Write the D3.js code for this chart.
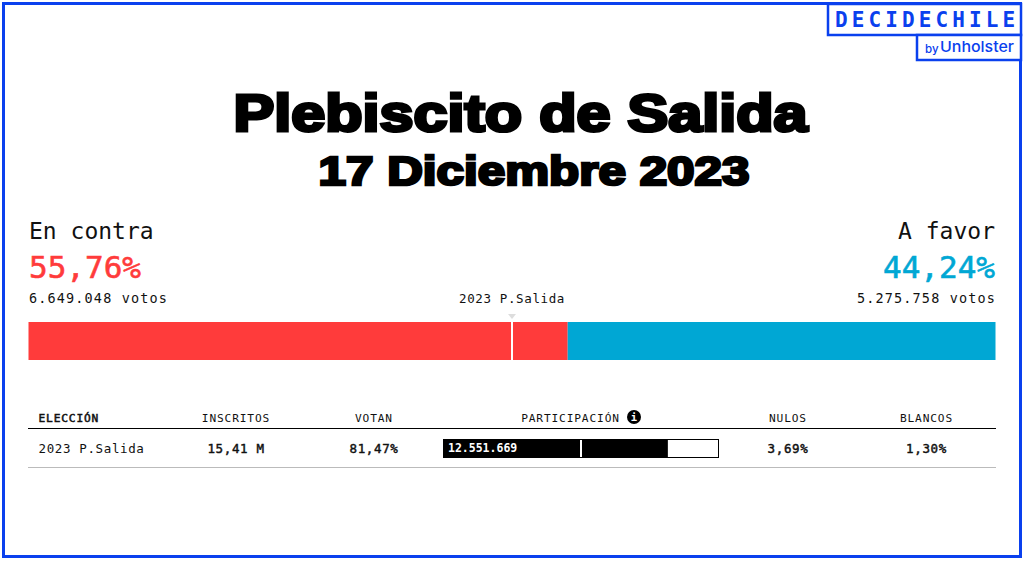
<!DOCTYPE html>
<html lang="es">
<head>
<meta charset="UTF-8">
<title>Plebiscito de Salida</title>
<script src="https://cdnjs.cloudflare.com/ajax/libs/d3/7.8.5/d3.min.js"></script>
<style>
  html, body { margin: 0; padding: 0; background: #fff; overflow: hidden; }
  text { font-family: "DejaVu Sans Mono", monospace; fill: #111; }
</style>
</head>
<body>
<svg id="chart" width="1024" height="561"></svg>
<script>
var opciones = ["En contra", "A favor"];
var porcentajes = [55.76, 44.24];
var etiquetasPct = ["55,76%", "44,24%"];
var votos = ["6.649.048 votos", "5.275.758 votos"];
var colores = ["#ff3b3b", "#00a7d4"];

var columnas = ["ELECCIÓN", "INSCRITOS", "VOTAN", "PARTICIPACIÓN", "NULOS", "BLANCOS"];
var fila = ["2023 P.Salida", "15,41 M", "81,47%", "12.551.669", "3,69%", "1,30%"];
var participacion = [81.47];
var azul = "#0a40ee";

var svg = d3.select("#chart");

function txt(x, y, s, size, anchor, opts) {
  opts = opts || {};
  return svg.append("text")
    .attr("x", x).attr("y", y).text(s)
    .attr("text-anchor", anchor || "start")
    .style("font-size", size + "px")
    .style("font-weight", opts.weight || 400)
    .style("fill", opts.fill || "#111")
    .style("stroke", opts.stroke ? (opts.fill || "#111") : null)
    .style("stroke-width", opts.stroke || null)
    .style("letter-spacing", opts.ls || null)
    .style("font-family", opts.family || null);
}

// marco
svg.append("rect").attr("x", 3.5).attr("y", 3.5).attr("width", 1017).attr("height", 553)
  .attr("fill", "none").attr("stroke", azul).attr("stroke-width", 3);

// logo
svg.append("rect").attr("x", 828).attr("y", 4).attr("width", 193).attr("height", 31)
  .attr("fill", "#fff").attr("stroke", azul).attr("stroke-width", 2.5);
svg.append("rect").attr("x", 917).attr("y", 35).attr("width", 104).attr("height", 25)
  .attr("fill", "#fff").attr("stroke", azul).attr("stroke-width", 2.5);
txt(835, 27, "DECIDECHILE", 21, "start", { weight: 700, fill: azul, ls: "4.1px" });
txt(925, 53, "by", 11.5, "start", { fill: azul, family: "Inter, sans-serif", weight: 500 });
txt(940, 52, "Unholster", 15, "start", { fill: azul, family: "Inter, sans-serif", weight: 500 })
  .attr("textLength", 74).attr("lengthAdjust", "spacingAndGlyphs");

// titulo
function titulo(cx, y, s, size, w, grosor) {
  svg.append("text").attr("x", cx).attr("y", y).text(s)
    .attr("text-anchor", "middle")
    .attr("textLength", w).attr("lengthAdjust", "spacingAndGlyphs")
    .style("font-family", "'Liberation Sans', sans-serif")
    .style("font-weight", 700).style("font-size", size + "px")
    .style("fill", "#000").style("stroke", "#000").style("stroke-width", grosor);
}
titulo(520.5, 131, "Plebiscito de Salida", 52, 574, 3.2);
titulo(534, 185, "17 Diciembre 2023", 41, 431, 2.7);

// encabezados
txt(29, 239, opciones[0], 23);
txt(995, 239, opciones[1], 23, "end");
txt(29, 278, etiquetasPct[0], 31, "start", { fill: colores[0], stroke: 0.6 });
txt(995, 278, etiquetasPct[1], 31, "end", { fill: colores[1], stroke: 0.6 });
txt(29, 303, votos[0], 13.5, "start", { ls: "1.14px" });
txt(996, 303, votos[1], 13.5, "end", { ls: "1.14px" });
txt(512, 303, fila[0], 12.5, "middle", { ls: "0.63px" });

// barra apilada
var x = d3.scaleLinear().domain([0, 100]).range([28.5, 995.5]);
var acum = 0;
var tramos = porcentajes.map(function (p, i) {
  var t = { inicio: acum, fin: acum + p, color: colores[i] };
  acum += p;
  return t;
});
svg.selectAll("rect.tramo").data(tramos).enter().append("rect")
  .attr("class", "tramo")
  .attr("x", function (d) { return x(d.inicio); })
  .attr("y", 322).attr("height", 38)
  .attr("width", function (d) { return x(d.fin) - x(d.inicio); })
  .attr("fill", function (d) { return d.color; });
svg.append("rect").attr("x", x(50) - 1).attr("y", 322).attr("width", 2).attr("height", 38).attr("fill", "#fff");
svg.append("path").attr("d", d3.line()([[x(50) - 4, 314], [x(50) + 4, 314], [x(50), 319]])).attr("fill", "#ddd");

// tabla
var colX = [38.5, 236, 374, 570.5, 788, 926.5];
columnas.forEach(function (c, i) {
  txt(colX[i], 422, c, 11.2, i === 0 ? "start" : "middle", { ls: "0.85px", stroke: i === 0 ? 0.5 : 0 });
});
svg.append("circle").attr("cx", 634).attr("cy", 417).attr("r", 7).attr("fill", "#000");
txt(634, 421, "i", 10.5, "middle", { weight: 700, fill: "#fff" });
svg.append("line").attr("x1", 28).attr("x2", 996).attr("y1", 428.5).attr("y2", 428.5).attr("stroke", "#000").attr("stroke-width", 1);
svg.append("line").attr("x1", 28).attr("x2", 996).attr("y1", 467.5).attr("y2", 467.5).attr("stroke", "#bbb").attr("stroke-width", 1);

txt(colX[0], 453, fila[0], 12.5, "start", { ls: "0.63px" });
[1, 2, 4, 5].forEach(function (i) {
  txt(colX[i], 453, fila[i], 12.5, "middle", { ls: "0.63px", stroke: 0.45 });
});

var xPart = d3.scaleLinear().domain([0, 100]).range([443, 719]);
svg.append("rect").attr("x", xPart(0) + 0.5).attr("y", 439.5).attr("width", xPart(100) - xPart(0) - 1).attr("height", 18)
  .attr("fill", "#fff").attr("stroke", "#000");
svg.selectAll("rect.part").data(participacion).enter().append("rect")
  .attr("class", "part")
  .attr("x", xPart(0)).attr("y", 439).attr("height", 19)
  .attr("width", function (d) { return xPart(d) - xPart(0); })
  .attr("fill", "#000");
svg.append("rect").attr("x", xPart(50) - 1).attr("y", 440).attr("width", 2).attr("height", 17).attr("fill", "#fff");
txt(448, 452, fila[3], 11.5, "start", { weight: 700, fill: "#fff" });
</script>
</body>
</html>
